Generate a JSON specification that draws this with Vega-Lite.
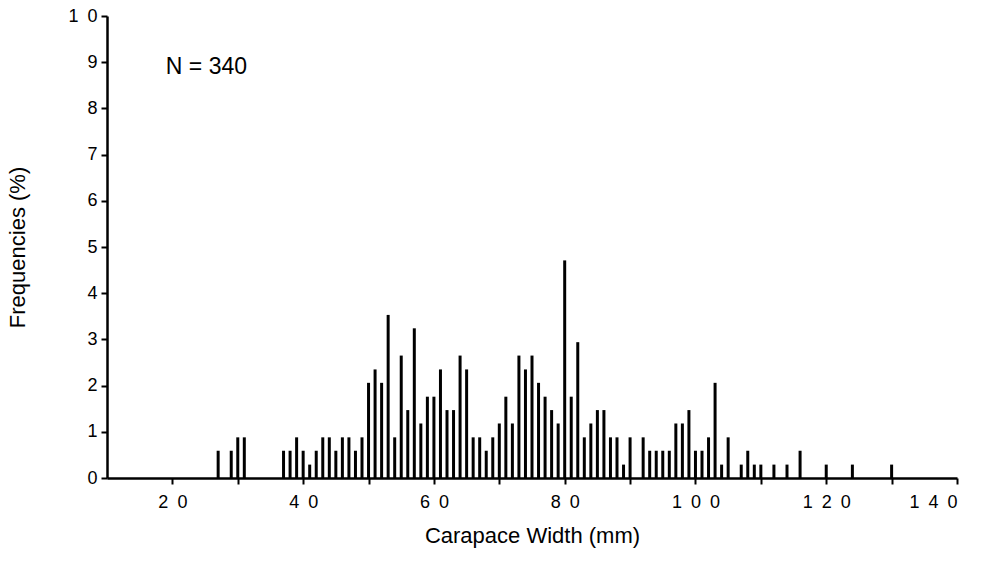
{
  "$schema": "https://vega.github.io/schema/vega-lite/v6.json",
  "width": 850,
  "height": 462,
  "autosize": {"type": "none"},
  "padding": {"left": 107, "top": 16, "right": 27, "bottom": 86},
  "background": "white",
  "config": {
    "view": {"stroke": null},
    "font": "Liberation Sans",
    "axis": {"grid": false, "domainColor": "black", "labelColor": "black", "titleColor": "black", "labelFont": "Liberation Sans", "titleFont": "Liberation Sans", "titleFontWeight": "normal"}
  },
  "datasets": {
    "bars": [
      {"width": 27, "pct": 0.59}, {"width": 29, "pct": 0.59}, {"width": 30, "pct": 0.88}, {"width": 31, "pct": 0.88},
      {"width": 37, "pct": 0.59}, {"width": 38, "pct": 0.59}, {"width": 39, "pct": 0.88}, {"width": 40, "pct": 0.59},
      {"width": 41, "pct": 0.29}, {"width": 42, "pct": 0.59}, {"width": 43, "pct": 0.88}, {"width": 44, "pct": 0.88},
      {"width": 45, "pct": 0.59}, {"width": 46, "pct": 0.88}, {"width": 47, "pct": 0.88}, {"width": 48, "pct": 0.59},
      {"width": 49, "pct": 0.88}, {"width": 50, "pct": 2.06}, {"width": 51, "pct": 2.35}, {"width": 52, "pct": 2.06},
      {"width": 53, "pct": 3.53}, {"width": 54, "pct": 0.88}, {"width": 55, "pct": 2.65}, {"width": 56, "pct": 1.47},
      {"width": 57, "pct": 3.24}, {"width": 58, "pct": 1.18}, {"width": 59, "pct": 1.76}, {"width": 60, "pct": 1.76},
      {"width": 61, "pct": 2.35}, {"width": 62, "pct": 1.47}, {"width": 63, "pct": 1.47}, {"width": 64, "pct": 2.65},
      {"width": 65, "pct": 2.35}, {"width": 66, "pct": 0.88}, {"width": 67, "pct": 0.88}, {"width": 68, "pct": 0.59},
      {"width": 69, "pct": 0.88}, {"width": 70, "pct": 1.18}, {"width": 71, "pct": 1.76}, {"width": 72, "pct": 1.18},
      {"width": 73, "pct": 2.65}, {"width": 74, "pct": 2.35}, {"width": 75, "pct": 2.65}, {"width": 76, "pct": 2.06},
      {"width": 77, "pct": 1.76}, {"width": 78, "pct": 1.47}, {"width": 79, "pct": 1.18}, {"width": 80, "pct": 4.71},
      {"width": 81, "pct": 1.76}, {"width": 82, "pct": 2.94}, {"width": 83, "pct": 0.88}, {"width": 84, "pct": 1.18},
      {"width": 85, "pct": 1.47}, {"width": 86, "pct": 1.47}, {"width": 87, "pct": 0.88}, {"width": 88, "pct": 0.88},
      {"width": 89, "pct": 0.29}, {"width": 90, "pct": 0.88}, {"width": 92, "pct": 0.88}, {"width": 93, "pct": 0.59},
      {"width": 94, "pct": 0.59}, {"width": 95, "pct": 0.59}, {"width": 96, "pct": 0.59}, {"width": 97, "pct": 1.18},
      {"width": 98, "pct": 1.18}, {"width": 99, "pct": 1.47}, {"width": 100, "pct": 0.59}, {"width": 101, "pct": 0.59},
      {"width": 102, "pct": 0.88}, {"width": 103, "pct": 2.06}, {"width": 104, "pct": 0.29}, {"width": 105, "pct": 0.88},
      {"width": 107, "pct": 0.29}, {"width": 108, "pct": 0.59}, {"width": 109, "pct": 0.29}, {"width": 110, "pct": 0.29},
      {"width": 112, "pct": 0.29}, {"width": 114, "pct": 0.29}, {"width": 116, "pct": 0.59}, {"width": 120, "pct": 0.29},
      {"width": 124, "pct": 0.29}, {"width": 130, "pct": 0.29}
    ],
    "note": [{"x": 19, "y": 8.75, "label": "N = 340"}]
  },
  "layer": [
    {
      "data": {"name": "bars"},
      "mark": {"type": "rule", "strokeWidth": 3, "color": "black"},
      "encoding": {
        "x": {"field": "width", "type": "quantitative",
              "scale": {"domain": [10, 140], "nice": false, "zero": false},
              "axis": {"orient": "bottom", "values": [20, 30, 40, 50, 60, 70, 80, 90, 100, 110, 120, 130, 140],
                       "ticks": true, "tickSize": 6, "tickWidth": 2, "tickColor": "#000000", "tickOpacity": 1, "domainWidth": 2.5,
                       "labelFontSize": 18, "labelPadding": 9,
                       "labelExpr": "datum.value % 20 === 0 ? replace(datum.label, regexp('(\\\\d)(?=\\\\d)', 'g'), '$1\\u2002') : ''",
                       "title": "Carapace Width (mm)", "titleFontSize": 22, "titlePadding": 14}},
        "y": {"field": "pct", "type": "quantitative",
              "scale": {"domain": [0, 10], "nice": false},
              "axis": {"orient": "left", "values": [0, 0.5, 1, 1.5, 2, 2.5, 3, 3.5, 4, 4.5, 5, 5.5, 6, 6.5, 7, 7.5, 8, 8.5, 9, 9.5, 10],
                       "ticks": true, "tickSize": 6, "tickWidth": 2, "tickColor": "#000000", "tickOpacity": 1, "domainWidth": 2.5,
                       "labelFontSize": 18, "labelPadding": 4,
                       "labelExpr": "datum.value % 1 === 0 ? replace(datum.label, regexp('(\\\\d)(?=\\\\d)', 'g'), '$1\\u2002') : ''",
                       "title": "Frequencies (%)", "titleFontSize": 22, "titlePadding": 38}},
        "y2": {"datum": 0}
      }
    },
    {
      "data": {"name": "note"},
      "mark": {"type": "text", "align": "left", "baseline": "alphabetic", "fontSize": 23, "color": "black", "font": "Liberation Sans"},
      "encoding": {
        "x": {"field": "x", "type": "quantitative"},
        "y": {"field": "y", "type": "quantitative"},
        "text": {"field": "label"}
      }
    }
  ]
}
